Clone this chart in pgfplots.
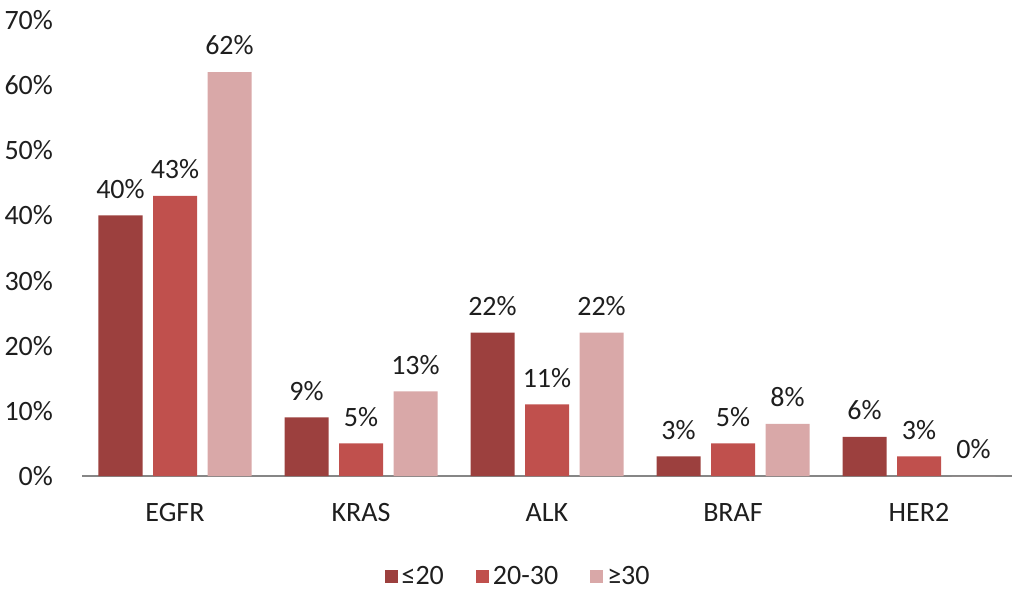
\documentclass[border=0pt]{standalone}
\usepackage{fontspec}
\setmainfont{Carlito}
\usepackage{pgfplots}
\pgfplotsset{compat=1.18}
\definecolor{cA}{RGB}{156,64,62}
\definecolor{cB}{RGB}{192,80,77}
\definecolor{cC}{RGB}{217,168,168}
\definecolor{axgray}{RGB}{134,134,134}
\definecolor{txt}{RGB}{30,30,30}
\begin{document}
\begin{tikzpicture}
\path[use as bounding box] (0,0) rectangle (506pt,298pt);
\begin{axis}[
  at={(41pt,60pt)}, anchor=south west,
  scale only axis, width=465pt, height=228pt,
  ybar=5.25pt, bar width=22pt,
  xmin=-0.5, xmax=4.5, ymin=0, ymax=70,
  xtick={0,1,2,3,4},
  xticklabels={EGFR,KRAS,ALK,BRAF,HER2},
  ytick={0,10,20,30,40,50,60,70},
  yticklabel={\pgfmathprintnumber{\tick}\%},
  /pgf/number format/assume math mode=true,
  axis x line*=bottom, axis y line*=left,
  x axis line style={axgray, line width=1pt, -},
  y axis line style={draw=none},
  major tick length=0pt,
  tick style={draw=none},
  every tick label/.append style={font=\fontsize{14}{16}\selectfont, text=txt},
  yticklabel style={anchor=east, xshift=-11pt},
  xticklabel style={yshift=-10pt},
  nodes near coords={\pgfmathprintnumber{\pgfplotspointmeta}\%},
  nodes near coords style={font=\fontsize{14}{16}\selectfont, text=txt, /pgf/number format/assume math mode=true, yshift=5pt},
  legend style={draw=none, at={(0.47,-0.221)}, anchor=center, legend columns=3,
    font=\fontsize{14}{16}\selectfont, text=txt,
    /tikz/every even column/.append style={column sep=14pt}},
  legend image code/.code={\fill[#1] (0pt,-3pt) rectangle (6.5pt,3.5pt);},
]
\addplot[fill=cA, draw=none] coordinates {(0,40) (1,9) (2,22) (3,3) (4,6)};
\addplot[fill=cB, draw=none] coordinates {(0,43) (1,5) (2,11) (3,5) (4,3)};
\addplot[fill=cC, draw=none] coordinates {(0,62) (1,13) (2,22) (3,8) (4,0)};
\legend{≤20,20-30,≥30}
\end{axis}
\end{tikzpicture}
\end{document}
